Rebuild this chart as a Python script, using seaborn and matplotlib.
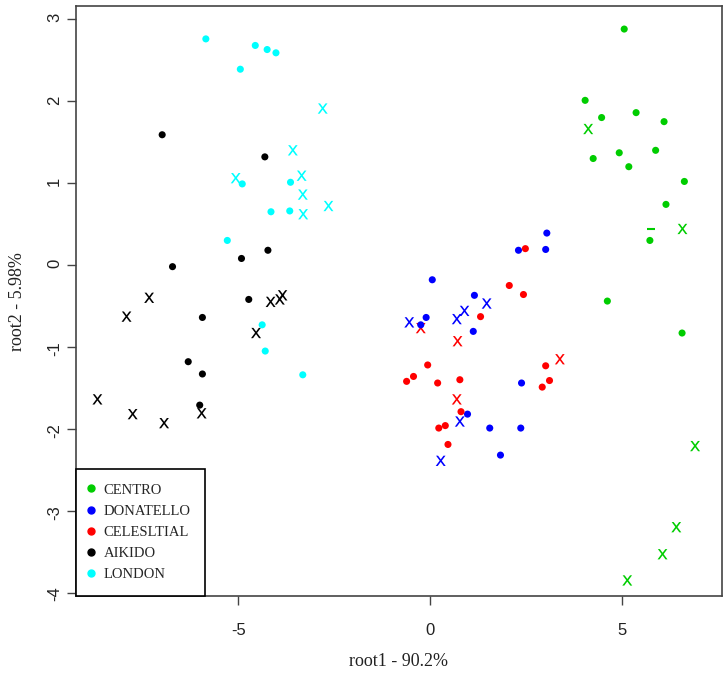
import pandas as pd
import matplotlib
matplotlib.use("Agg")
import matplotlib.pyplot as plt
import seaborn as sns
from matplotlib.lines import Line2D

# ============================
# Data
# ============================

groups = ["CENTRO", "DONATELLO", "CELESLTIAL", "AIKIDO", "LONDON"]
colors = ["#00CD00", "#0000FF", "#FF0000", "#000000", "#00FFFF"]

# filled dots
centro_dot_x = [5.07, 4.05, 4.48, 5.38, 6.11, 4.26, 4.94, 5.19, 5.89, 6.64, 6.16, 5.74, 4.63, 6.58]
centro_dot_y = [2.88, 2.01, 1.80, 1.86, 1.75, 1.30, 1.37, 1.20, 1.40, 1.02, 0.74, 0.30, -0.44, -0.83]
donatello_dot_x = [0.06, 3.05, 3.02, 2.31, 1.16, -0.10, -0.24, 1.13, 2.39, 0.98, 1.56, 2.37, 1.84]
donatello_dot_y = [-0.18, 0.39, 0.19, 0.18, -0.37, -0.64, -0.73, -0.81, -1.44, -1.82, -1.99, -1.99, -2.32]
celestial_dot_x = [2.49, 2.07, 2.44, 1.32, -0.06, 3.02, -0.61, -0.43, 0.20, 0.78, 3.12, 2.93, 0.81, 0.23, 0.40, 0.47]
celestial_dot_y = [0.20, -0.25, -0.36, -0.63, -1.22, -1.23, -1.42, -1.36, -1.44, -1.40, -1.41, -1.49, -1.79, -1.99, -1.96, -2.19]
aikido_dot_x = [-6.99, -4.31, -4.23, -4.92, -6.72, -4.73, -5.94, -6.31, -5.94, -6.01]
aikido_dot_y = [1.59, 1.32, 0.18, 0.08, -0.02, -0.42, -0.64, -1.18, -1.33, -1.71]
london_dot_x = [-5.85, -4.56, -4.25, -4.02, -4.95, -4.90, -3.64, -4.15, -3.66, -5.29, -4.38, -4.30, -3.32]
london_dot_y = [2.76, 2.68, 2.63, 2.59, 2.39, 0.99, 1.01, 0.65, 0.66, 0.30, -0.73, -1.05, -1.34]

# "x" points
centro_x_x = [4.13, 6.59, 6.92, 6.43, 6.07, 5.15]
centro_x_y = [1.66, 0.44, -2.21, -3.20, -3.53, -3.85]
donatello_x_x = [1.48, 0.90, 0.70, -0.54, 0.78, 0.28]
donatello_x_y = [-0.47, -0.56, -0.66, -0.70, -1.91, -2.39]
celestial_x_x = [-0.24, 0.72, 3.39, 0.70]
celestial_x_y = [-0.77, -0.93, -1.15, -1.64]
aikido_x_x = [-7.33, -7.92, -4.16, -3.92, -3.85, -4.54, -8.68, -7.76, -5.96, -6.94]
aikido_x_y = [-0.40, -0.63, -0.45, -0.42, -0.37, -0.83, -1.64, -1.82, -1.81, -1.93]
london_x_x = [-2.80, -3.58, -5.07, -3.35, -3.32, -2.65, -3.31]
london_x_y = [1.91, 1.40, 1.06, 1.09, 0.86, 0.72, 0.62]

# the lone "-" point in the CENTRO cluster
centro_dash_x = [5.76]
centro_dash_y = [0.44]


def make_frame(xs, ys):
    """Stack per-group coordinate lists into one long frame."""
    parts = []
    for g, x, y in zip(groups, xs, ys):
        parts.append(pd.DataFrame({"root1": x, "root2": y, "group": g}))
    return pd.concat(parts, ignore_index=True)


dots = make_frame(
    [centro_dot_x, donatello_dot_x, celestial_dot_x, aikido_dot_x, london_dot_x],
    [centro_dot_y, donatello_dot_y, celestial_dot_y, aikido_dot_y, london_dot_y],
)
crosses = make_frame(
    [centro_x_x, donatello_x_x, celestial_x_x, aikido_x_x, london_x_x],
    [centro_x_y, donatello_x_y, celestial_x_y, aikido_x_y, london_x_y],
)

# ============================
# Plot
# ============================

sns.set_style("white")
plt.rcParams["font.family"] = ["Liberation Serif", "DejaVu Serif"]
plt.rcParams["axes.unicode_minus"] = False

fig = plt.figure(figsize=(7.27, 6.8), dpi=100)
ax = fig.add_axes([0.1045, 0.1235, 0.8885, 0.8675])

sns.scatterplot(data=crosses, x="root1", y="root2", hue="group", hue_order=groups,
                palette=colors, marker=r"$\mathrm{x}$", s=55, linewidth=0,
                legend=False, ax=ax, zorder=2)
sns.scatterplot(data=dots, x="root1", y="root2", hue="group", hue_order=groups,
                palette=colors, marker="o", s=26, linewidth=0,
                legend=False, ax=ax, zorder=3)
ax.plot(centro_dash_x, centro_dash_y, linestyle="none", marker="_",
        markersize=6, markeredgewidth=1.5, color=colors[0])

ax.set_xlim(-9.24, 7.62)
ax.set_ylim(-4.04, 3.16)
ax.set_xticks([-5, 0, 5])
ax.set_yticks([-4, -3, -2, -1, 0, 1, 2, 3])

for side in ["left", "right", "top", "bottom"]:
    ax.spines[side].set_color("#444444")
    ax.spines[side].set_linewidth(1.2)

ax.tick_params(axis="both", direction="out", length=6.5, width=1.0, color="#444444",
               labelsize=12, left=True, bottom=True)
ax.tick_params(axis="x", pad=13)
ax.tick_params(axis="y", labelrotation=90, pad=3.5)
for lab in ax.get_xticklabels() + ax.get_yticklabels():
    lab.set_fontfamily("Liberation Sans")
    lab.set_color("#222222")

ax.set_xlabel("root1 - 90.2%", fontsize=13, labelpad=11, color="#222222")
ax.set_ylabel("root2 - 5.98%", fontsize=13, labelpad=15.5, color="#222222")

handles = [Line2D([], [], marker="o", linestyle="none", color=c, markersize=5)
           for c in colors]
leg = ax.legend(handles, groups, loc="lower left", bbox_to_anchor=(0, 0),
                borderaxespad=0, frameon=True, fancybox=False, edgecolor="black",
                framealpha=1, prop={"family": "Liberation Serif", "size": 10.5},
                handlelength=0.1, handletextpad=0.8, borderpad=1.0,
                labelspacing=0.55)
leg.get_frame().set_linewidth(1.2)

fig.savefig("out.png", dpi=100)
